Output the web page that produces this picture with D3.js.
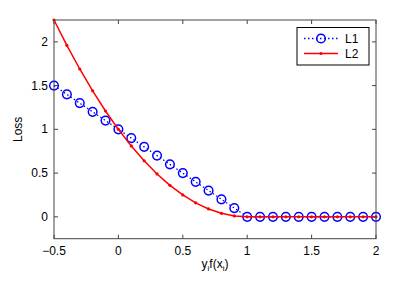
<!DOCTYPE html>
<html>
<head>
<meta charset="utf-8">
<script src="https://cdn.jsdelivr.net/npm/d3@7"></script>
<style>
  body { margin: 0; background: #fff; }
  text { font-family: "Liberation Sans", Arial, sans-serif; }
</style>
</head>
<body>
<script>
var xs = [-0.5, -0.4, -0.3, -0.2, -0.1, 0, 0.1, 0.2, 0.3, 0.4, 0.5, 0.6, 0.7, 0.8, 0.9,
          1, 1.1, 1.2, 1.3, 1.4, 1.5, 1.6, 1.7, 1.8, 1.9, 2];
var l1 = [1.5, 1.4, 1.3, 1.2, 1.1, 1, 0.9, 0.8, 0.7, 0.6, 0.5, 0.4, 0.3, 0.2, 0.1,
          0, 0, 0, 0, 0, 0, 0, 0, 0, 0, 0];
var l2 = [2.25, 1.96, 1.69, 1.44, 1.21, 1, 0.81, 0.64, 0.49, 0.36, 0.25, 0.16, 0.09, 0.04, 0.01,
          0, 0, 0, 0, 0, 0, 0, 0, 0, 0, 0];
var xTicks = [-0.5, 0, 0.5, 1, 1.5, 2];
var yTicks = [0, 0.5, 1, 1.5, 2];
var names = ["L1", "L2"];

var W = 415, H = 282;
var pLeft = 54, pRight = 376, pTop = 20, pBottom = 238.7;

var svg = d3.select("body").append("svg")
    .attr("width", W)
    .attr("height", H);

var x = d3.scaleLinear().domain([-0.5, 2]).range([pLeft, pRight]);
var y = d3.scaleLinear().domain([-0.25, 2.25]).range([pBottom, pTop]);

function fmt(d) { return d < 0 ? "\u2212" + Math.abs(d) : String(d); }

var axisColor = "#444";

// tick marks, inward on all four sides
var tl = 4;
svg.selectAll("line.xt")
    .data(xTicks)
    .enter().append("line")
    .attr("x1", function (d) { return x(d); })
    .attr("x2", function (d) { return x(d); })
    .attr("y1", pBottom).attr("y2", pBottom - tl)
    .style("stroke", axisColor);
svg.selectAll("line.xt2")
    .data(xTicks)
    .enter().append("line")
    .attr("x1", function (d) { return x(d); })
    .attr("x2", function (d) { return x(d); })
    .attr("y1", pTop).attr("y2", pTop + tl)
    .style("stroke", axisColor);
svg.selectAll("line.yt")
    .data(yTicks)
    .enter().append("line")
    .attr("y1", function (d) { return y(d); })
    .attr("y2", function (d) { return y(d); })
    .attr("x1", pLeft).attr("x2", pLeft + tl)
    .style("stroke", axisColor);
svg.selectAll("line.yt2")
    .data(yTicks)
    .enter().append("line")
    .attr("y1", function (d) { return y(d); })
    .attr("y2", function (d) { return y(d); })
    .attr("x1", pRight).attr("x2", pRight - tl)
    .style("stroke", axisColor);

// tick labels
svg.selectAll("text.xl")
    .data(xTicks)
    .enter().append("text")
    .attr("x", function (d) { return x(d); })
    .attr("y", pBottom + 16)
    .attr("text-anchor", "middle")
    .style("font-size", "12px")
    .text(fmt);
svg.selectAll("text.yl")
    .data(yTicks)
    .enter().append("text")
    .attr("x", pLeft - 6)
    .attr("y", function (d) { return y(d) + 4; })
    .attr("text-anchor", "end")
    .style("font-size", "12px")
    .text(fmt);

// axis labels
svg.append("text")
    .attr("transform", "translate(22," + y(1) + ") rotate(-90)")
    .attr("text-anchor", "middle")
    .style("font-size", "12px")
    .text("Loss");

var xl = svg.append("text")
    .attr("x", x(0.75))
    .attr("y", 268)
    .attr("text-anchor", "middle")
    .style("font-size", "12px");
xl.append("tspan").text("y");
xl.append("tspan").attr("dy", 3).style("font-size", "8px").text("i");
xl.append("tspan").attr("dy", -3).text("f(x");
xl.append("tspan").attr("dy", 3).style("font-size", "8px").text("i");
xl.append("tspan").attr("dy", -3).text(")");

// data
var pts1 = xs.map(function (d, i) { return [d, l1[i]]; });
var pts2 = xs.map(function (d, i) { return [d, l2[i]]; });
var line = d3.line()
    .x(function (d) { return x(d[0]); })
    .y(function (d) { return y(d[1]); });

var plot = svg.append("g");
plot.append("path")
    .attr("d", line(pts1))
    .style("fill", "none")
    .style("stroke", "#0000ff")
    .style("stroke-width", 1.3)
    .style("stroke-dasharray", "1.5,2.5");
plot.selectAll("circle.c1")
    .data(pts1)
    .enter().append("circle")
    .attr("cx", function (d) { return x(d[0]); })
    .attr("cy", function (d) { return y(d[1]); })
    .attr("r", 4.3)
    .style("fill", "none")
    .style("stroke", "#0000ff")
    .style("stroke-width", 1.5);

plot.append("path")
    .attr("d", line(pts2))
    .style("fill", "none")
    .style("stroke", "#ff0000")
    .style("stroke-width", 1.5);
plot.selectAll("circle.c2")
    .data(pts2)
    .enter().append("circle")
    .attr("cx", function (d) { return x(d[0]); })
    .attr("cy", function (d) { return y(d[1]); })
    .attr("r", 1.6)
    .style("fill", "#ff0000");

// box
svg.append("rect")
    .attr("x", pLeft).attr("y", pTop)
    .attr("width", pRight - pLeft).attr("height", pBottom - pTop)
    .style("fill", "none")
    .style("stroke", axisColor)
    .style("stroke-width", 1);

// legend
var lg = svg.append("g").attr("transform", "translate(297,27.5)");
lg.append("rect")
    .attr("width", 72).attr("height", 37.5)
    .style("fill", "#fff")
    .style("stroke", "#000")
    .style("stroke-width", 1);
lg.append("line")
    .attr("x1", 7).attr("x2", 41).attr("y1", 11).attr("y2", 11)
    .style("stroke", "#0000ff").style("stroke-width", 1.3)
    .style("stroke-dasharray", "1.5,2.5");
lg.append("circle")
    .attr("cx", 24).attr("cy", 11).attr("r", 4.3)
    .style("fill", "none").style("stroke", "#0000ff").style("stroke-width", 1.5);
lg.append("line")
    .attr("x1", 7).attr("x2", 41).attr("y1", 26).attr("y2", 26)
    .style("stroke", "#ff0000").style("stroke-width", 1.5);
lg.append("circle")
    .attr("cx", 24).attr("cy", 26).attr("r", 1.6)
    .style("fill", "#ff0000");
lg.selectAll("text")
    .data(names)
    .enter().append("text")
    .attr("x", 48)
    .attr("y", function (d, i) { return 15.5 + i * 15; })
    .style("font-size", "12px")
    .text(function (d) { return d; });
</script>
</body>
</html>
